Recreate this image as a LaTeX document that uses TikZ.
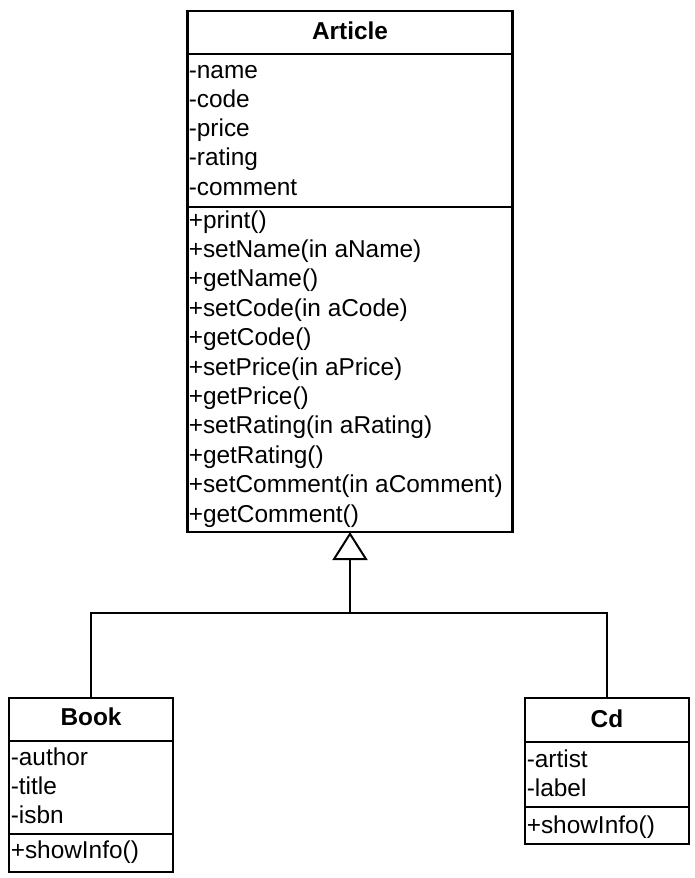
\documentclass[tikz,border=0pt]{standalone}
\usepackage{fontspec}
\setmainfont{Liberation Sans}
\usetikzlibrary{arrows.meta}
\begin{document}
\begin{tikzpicture}[x=0.75pt,y=-0.75pt,
  classbox/.style={draw, line width=1.6pt, inner sep=0pt, outer sep=0pt, fill=white},
  sepline/.style={line width=1.6pt},
  conn/.style={line width=1.2pt},
  txt/.style={anchor=base west, inner sep=0pt, font=\fontsize{18.3pt}{22pt}\selectfont},
  ttl/.style={anchor=base, inner sep=0pt, font=\fontsize{18.3pt}{22pt}\selectfont\bfseries}]
\useasboundingbox (0,0) rectangle (694,878);
\fill[white] (0,0) rectangle (694,878);
% boxes
\node[classbox, minimum width=243.75pt, minimum height=390.75pt] (article) at (350,271.5) {};
\node[classbox, minimum width=123pt, minimum height=130.5pt] (book) at (91,785) {};
\node[classbox, minimum width=123pt, minimum height=109.5pt] (cd) at (607,771) {};
% separators
\draw[sepline] (article.west |- 0,54) -- (article.east |- 0,54);
\draw[sepline] (article.west |- 0,207) -- (article.east |- 0,207);
\draw[sepline] (book.west |- 0,741) -- (book.east |- 0,741);
\draw[sepline] (book.west |- 0,834) -- (book.east |- 0,834);
\draw[sepline] (cd.west |- 0,742) -- (cd.east |- 0,742);
\draw[sepline] (cd.west |- 0,807) -- (cd.east |- 0,807);
% titles
\node[ttl] (tarticle) at (350,39) {Article};
\node[ttl] (tbook) at (91,725) {Book};
\node[ttl] (tcd) at (607,727) {Cd};
% Article attributes
\foreach \t [count=\i] in {-name,-code,-price,-rating,-comment}
  \node[txt] (aa\i) at (188.5,{78+(\i-1)*29.25}) {\t};
% Article methods
\foreach \t [count=\i] in {+print(),+setName(in aName),+getName(),+setCode(in aCode),+getCode(),+setPrice(in aPrice),+getPrice(),+setRating(in aRating),+getRating(),+setComment(in aComment),+getComment()}
  \node[txt] (am\i) at (188.5,{228+(\i-1)*29.4}) {\t};
% Book
\foreach \t [count=\i] in {-author,-title,-isbn}
  \node[txt] (ba\i) at (10.5,{765+(\i-1)*29}) {\t};
\node[txt] (bm1) at (10.5,858) {+showInfo()};
% Cd
\foreach \t [count=\i] in {-artist,-label}
  \node[txt] (ca\i) at (526.5,{767+(\i-1)*29}) {\t};
\node[txt] (cm1) at (526.5,833) {+showInfo()};
% connectors
\coordinate (j) at (350,613);
\draw[conn, -{Triangle[open, length=21pt, width=26.25pt, line width=1.5pt]}] (j) -- (article.south);
\draw[conn] (book.north) |- (j) -| (cd.north);
\end{tikzpicture}
\end{document}
